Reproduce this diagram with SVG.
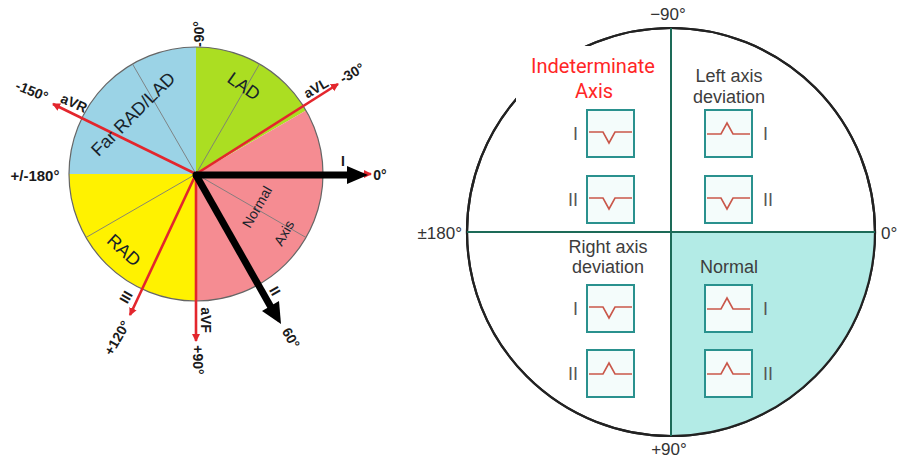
<svg xmlns="http://www.w3.org/2000/svg" width="899" height="462" viewBox="0 0 899 462">
<style>
.lbl{font-family:"Liberation Sans",Arial,sans-serif;font-weight:bold;font-size:14px;fill:#1a1a1a;text-anchor:middle}
.zone{font-family:"Liberation Sans",Arial,sans-serif;font-size:18px;fill:#17232b;text-anchor:middle}
.rt{font-family:"Liberation Sans",Arial,sans-serif;font-size:18px;fill:#3d3d3d;text-anchor:middle}
.deg{font-family:"Liberation Sans",Arial,sans-serif;font-size:17px;fill:#333;}
.lead{font-family:"Liberation Sans",Arial,sans-serif;font-size:18px;fill:#555}
.ind{font-family:Roboto,"Liberation Sans",sans-serif;font-size:20px;fill:#ff2626;text-anchor:middle}
.gray{stroke:#7a7a7a;stroke-width:0.9}
.red{stroke:#e3262d;stroke-width:2.6;fill:none}
.box{fill:#f4fcfb;stroke:#2a918e;stroke-width:2}
.wave{fill:none;stroke:#c9574a;stroke-width:1.6}
.axisline{stroke:#1d6b58;stroke-width:2}
</style>
<defs>
<marker id="ra" markerUnits="userSpaceOnUse" markerWidth="10" markerHeight="10" refX="7" refY="4" orient="auto">
<path d="M0,0 L8,4 L0,8 z" fill="#e3262d"/>
</marker>
<symbol id="down" overflow="visible"><rect class="box" x="0" y="0" width="47" height="47"/><path class="wave" d="M2,22 H16 L22,33 L28,22 H45"/></symbol>
<symbol id="up" overflow="visible"><rect class="box" x="0" y="0" width="47" height="47"/><path class="wave" d="M2,24 H16 L22,13 L28,24 H45"/></symbol>
</defs>
<rect width="899" height="462" fill="#ffffff"/>

<!-- LEFT HEXAXIAL DIAGRAM -->
<g id="sectors">
<path d="M196,174 L69,174 A127,127 0 0 1 196,47 Z" fill="#9bd3e6"/>
<path d="M196,174 L196,47 A127,127 0 0 1 306,110.5 Z" fill="#abde22"/>
<path d="M196,174 L306,110.5 A127,127 0 0 1 196,301 Z" fill="#f58c92"/>
<path d="M196,174 L196,301 A127,127 0 0 1 69,174 Z" fill="#fff200"/>
<circle cx="196" cy="174" r="127" fill="none" stroke="#666" stroke-width="1.2"/>
<line class="gray" x1="196" y1="174" x2="132.5" y2="64"/>
<line class="gray" x1="196" y1="174" x2="259.5" y2="64"/>
<line class="gray" x1="196" y1="174" x2="306" y2="237.5"/>
<line class="gray" x1="196" y1="174" x2="86" y2="237.5"/>
</g>

<g id="connectors">
<line class="red" x1="196" y1="174" x2="53" y2="104" marker-end="url(#ra)"/>
<line class="red" x1="196" y1="174" x2="338" y2="84" marker-end="url(#ra)"/>
<line class="red" x1="196" y1="174" x2="130" y2="315" marker-end="url(#ra)"/>
<line class="red" x1="196" y1="174" x2="196" y2="341" marker-end="url(#ra)"/>
<line class="red" x1="196" y1="174" x2="371" y2="174" marker-end="url(#ra)"/>
<line class="red" x1="196" y1="174" x2="279" y2="321"/>
<line x1="196" y1="175" x2="350" y2="175" stroke="#000" stroke-width="7"/>
<polygon points="347,166 368,175 347,184" fill="#000"/>
<line x1="196" y1="175" x2="272" y2="309" stroke="#000" stroke-width="7"/>
<polygon points="262,311 279,301 281,324" fill="#000"/>
<circle cx="196" cy="175" r="3.5" fill="#000"/>
</g>

<g id="zone-labels">
<text class="zone" transform="translate(133,114) rotate(-45)" dy=".35em">Far RAD/LAD</text>
<text class="zone" transform="translate(244,86) rotate(35)" dy=".35em">LAD</text>
<text class="zone" transform="translate(124,250) rotate(42)" dy=".35em">RAD</text>
<text class="zone" style="font-size:14px" transform="translate(257,207) rotate(-60)" dy=".35em">Normal</text>
<text class="zone" style="font-size:14px" transform="translate(284,233) rotate(-60)" dy=".35em">Axis</text>
</g>

<g id="lead-labels">
<text class="lbl" transform="translate(199,34) rotate(-90)" dy=".35em">-90°</text>
<text class="lbl" transform="translate(352,73) rotate(-30)" dy=".35em">-30°</text>
<text class="lbl" transform="translate(316,88) rotate(-30)" dy=".35em">aVL</text>
<text class="lbl" x="343" y="166">I</text>
<text class="lbl" x="380" y="180">0°</text>
<text class="lbl" transform="translate(32,91) rotate(22)" dy=".35em">-150°</text>
<text class="lbl" transform="translate(74,103) rotate(24)" dy=".35em">aVR</text>
<text class="lbl" style="font-size:15px" x="35" y="181">+/-180°</text>
<text class="lbl" transform="translate(126,297) rotate(-60)" dy=".35em">III</text>
<text class="lbl" transform="translate(117,338) rotate(-60)" dy=".35em">+120°</text>
<text class="lbl" transform="translate(206,320) rotate(90)" dy=".35em">aVF</text>
<text class="lbl" transform="translate(198,360) rotate(90)" dy=".35em">+90°</text>
<text class="lbl" transform="translate(275,291) rotate(60)" dy=".35em">II</text>
<text class="lbl" transform="translate(291,338) rotate(60)" dy=".35em">60°</text>
</g>

<!-- RIGHT QUADRANT DIAGRAM -->
<g id="quadrant-circle">
<circle cx="671" cy="232" r="204" fill="#ffffff" stroke="#222" stroke-width="2.2"/>
<path d="M671,232 L875,232 A204,204 0 0 1 671,436 Z" fill="#b3ebe6"/>
<circle cx="671" cy="232" r="204" fill="none" stroke="#222" stroke-width="2.2"/>
<line class="axisline" x1="467" y1="232" x2="875" y2="232"/>
<line class="axisline" x1="671" y1="28" x2="671" y2="436"/>
<rect x="516" y="46" width="146" height="60" fill="#ffffff"/>
<text class="deg" x="668" y="20" text-anchor="middle">−90°</text>
<text class="deg" x="881" y="239">0°</text>
<text class="deg" x="462" y="239" text-anchor="end">±180°</text>
<text class="deg" x="669" y="455" text-anchor="middle">+90°</text>
</g>

<g id="indeterminate">
<text class="ind" x="593" y="73" textLength="124" lengthAdjust="spacingAndGlyphs">Indeterminate</text>
<text class="ind" x="594" y="98">Axis</text>
<use href="#down" x="587" y="110"/>
<use href="#down" x="587" y="176"/>
<text class="lead" x="578" y="140" text-anchor="end">I</text>
<text class="lead" x="578" y="206" text-anchor="end">II</text>
</g>

<g id="left-axis-deviation">
<text class="rt" x="729" y="82">Left axis</text>
<text class="rt" x="729" y="103">deviation</text>
<use href="#up" x="705" y="110"/>
<use href="#down" x="705" y="176"/>
<text class="lead" x="763" y="140">I</text>
<text class="lead" x="763" y="206">II</text>
</g>

<g id="right-axis-deviation">
<text class="rt" x="608" y="253">Right axis</text>
<text class="rt" x="608" y="273">deviation</text>
<use href="#down" x="587" y="285"/>
<use href="#up" x="587" y="350"/>
<text class="lead" x="578" y="315" text-anchor="end">I</text>
<text class="lead" x="578" y="380" text-anchor="end">II</text>
</g>

<g id="normal">
<text class="rt" x="729" y="273">Normal</text>
<use href="#up" x="705" y="285"/>
<use href="#up" x="705" y="350"/>
<text class="lead" x="763" y="315">I</text>
<text class="lead" x="763" y="380">II</text>
</g>
</svg>
